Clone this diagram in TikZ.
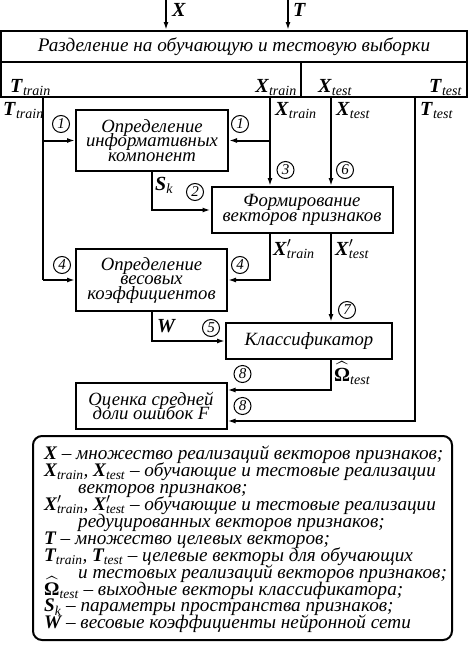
\documentclass[tikz,border=0pt]{standalone}
\usepackage{fontspec}
\setmainfont{Liberation Serif}
\usepackage{amsmath}
\usetikzlibrary{arrows.meta,positioning}

\newcommand{\boxfont}{\fontsize{18.7}{14.5}\selectfont\lineskiplimit=-20pt\itshape}
\newcommand{\titlefont}{\fontsize{19.2}{20}\selectfont\itshape}
\newcommand{\lblfont}{\fontsize{20}{20}\selectfont}
\newcommand{\numfont}{\fontsize{15}{15}\selectfont\itshape}
\newcommand{\legfont}{\fontsize{19.2}{16.9}\selectfont\lineskiplimit=-20pt\itshape}
\newcommand{\bsym}[2]{\textbf{\textit{#1}}\textsubscript{\textit{#2}}}
\newcommand{\bsymp}[2]{\textbf{\textit{#1}}\rlap{$'$}\textsubscript{\textit{#2}}}
\newcommand{\omhat}{\ensuremath{\widehat{\text{\upshape\bfseries Ω}}}\textsubscript{\textit{test}}}

\begin{document}
\begin{tikzpicture}[x=1pt,y=1pt]
                    \tikzstyle{every node}+=[inner sep=0pt]
                    \tikzstyle{box}=[draw, line width=2pt, align=center, font=\boxfont]
                    \tikzstyle{num}=[draw, circle, line width=1pt, minimum size=17pt, font=\numfont]
                    \tikzstyle{lbl}=[anchor=base west, font=\lblfont]
                    \tikzstyle{wire}=[line width=2pt]
                    \tikzstyle{link}=[line width=2pt, -{Latex[length=8pt,width=5pt]}]
                    \useasboundingbox (0,0) rectangle (468,-651);
                    % splitting of the sample
                    \node [box, font=\titlefont, minimum width=466, minimum height=31] (split) at (234,-46.5) {Разделение на обучающую и тестовую выборки};
                    \node [box, minimum width=300, minimum height=35] (trainrow) at (151,-79.5) {};
                    \node [box, minimum width=166, minimum height=35] (testrow) at (384,-79.5) {};
                    \coordinate (xin) at (166,0);
                    \coordinate (tin) at (288,0);
                    \draw [link] (xin) -- (xin |- split.north);
                    \draw [link] (tin) -- (tin |- split.north);
                    \node [lbl] (xinlbl) at (172,-16) {\textbf{\textit{X}}};
                    \node [lbl] (tinlbl) at (293,-16) {\textbf{\textit{T}}};
                    \node [lbl] (ttrrow) at (10,-92) {\bsym{T}{train}};
                    \node [lbl, anchor=base east] (xtrrow) at (297,-92) {\bsym{X}{train}};
                    \node [lbl] (xtsrow) at (318,-92) {\bsym{X}{test}};
                    \node [lbl] (ttsrow) at (429,-92) {\bsym{T}{test}};
                    \coordinate (ttr) at (43,-97);
                    \coordinate (xtr) at (270,-97);
                    \coordinate (xts) at (331,-97);
                    \coordinate (tts) at (415,-97);
                    % processing blocks
                    \node [box, minimum width=152, minimum height=61] (info) at (152,-140.5) {Определение\\информативных\\компонент};
                    \node [box, minimum width=181, minimum height=46] (form) at (302,-210) {Формирование\\векторов признаков};
                    \node [box, minimum width=151, minimum height=62] (weight) at (151.5,-280) {Определение\\весовых\\коэффициентов};
                    \node [box, minimum width=166, minimum height=36] (clf) at (309,-341) {Классификатор};
                    \node [box, minimum width=151, minimum height=46] (err) at (151,-406) {Оценка средней\\доли ошибок \textit{F}};
                    % connections
                    \draw [wire] (ttr) -- (ttr |- weight.west);
                    \draw [link] (ttr |- info.west) -- (info.west);
                    \draw [link] (ttr |- weight.west) -- (weight.west);
                    \draw [link] (xtr) -- (xtr |- form.north);
                    \draw [link] (xtr |- info.east) -- (info.east);
                    \draw [link] (xts) -- (xts |- form.north);
                    \draw [link] (info.south) |- (form.west);
                    \draw [link] (xtr |- form.south) |- (weight.east);
                    \draw [link] (xts |- form.south) -- (xts |- clf.north);
                    \draw [link] (weight.south) |- (clf.west);
                    \draw [link] (xts |- clf.south) |- ([yshift=16pt]err.east);
                    \draw [link] (tts) |- ([yshift=-15pt]err.east);
                    % connector labels
                    \node [lbl] (ttrlbl) at (3,-115) {\bsym{T}{train}};
                    \node [lbl] (xtrlbl) at (275,-115) {\bsym{X}{train}};
                    \node [lbl] (xtslbl) at (336,-115) {\bsym{X}{test}};
                    \node [lbl] (ttslbl) at (420,-115) {\bsym{T}{test}};
                    \node [lbl] (sklbl) at (155,-190) {\bsym{S}{k}};
                    \node [lbl] (xtrplbl) at (273,-255) {\bsymp{X}{train}};
                    \node [lbl] (xtsplbl) at (335,-255) {\bsymp{X}{test}};
                    \node [lbl] (wlbl) at (157,-332) {\textbf{\textit{W}}};
                    \node [lbl] (omlbl) at (334,-381) {\omhat};
                    % step numbers
                    \node [num] (c1a) at (61,-124) {1};
                    \node [num] (c1b) at (240,-124) {1};
                    \node [num] (c2) at (195,-192) {2};
                    \node [num] (c3) at (285.5,-170) {3};
                    \node [num] (c6) at (345,-170) {6};
                    \node [num] (c4a) at (62,-265) {4};
                    \node [num] (c4b) at (240,-265) {4};
                    \node [num] (c7) at (347,-310) {7};
                    \node [num] (c5) at (211,-328) {5};
                    \node [num] (c8a) at (242.5,-374) {8};
                    \node [num] (c8b) at (242.5,-406) {8};
                    % legend
                    \node [draw, line width=2pt, rounded corners=9pt, minimum width=419, minimum height=204] (legend) at (242.5,-538) {};
                    \node [anchor=north west, align=left, font=\legfont] (legendtxt) at (44,-446) {%
                      \textbf{\textit{X}} – множество реализаций векторов признаков;\\
                      \bsym{X}{train}, \bsym{X}{test} – обучающие и тестовые реализации\\
                      \hspace*{34pt}векторов признаков;\\
                      \bsymp{X}{train}, \bsymp{X}{test} – обучающие и тестовые реализации\\
                      \hspace*{34pt}редуцированных векторов признаков;\\
                      \textbf{\textit{T}} – множество целевых векторов;\\
                      \bsym{T}{train}, \bsym{T}{test} – целевые векторы для обучающих\\
                      \hspace*{34pt}и тестовых реализаций векторов признаков;\\
                      \omhat{} – выходные векторы классификатора;\\
                      \bsym{S}{k} – параметры пространства признаков;\\
                      \textbf{\textit{W}} – весовые коэффициенты нейронной сети};
                \end{tikzpicture}
\end{document}
